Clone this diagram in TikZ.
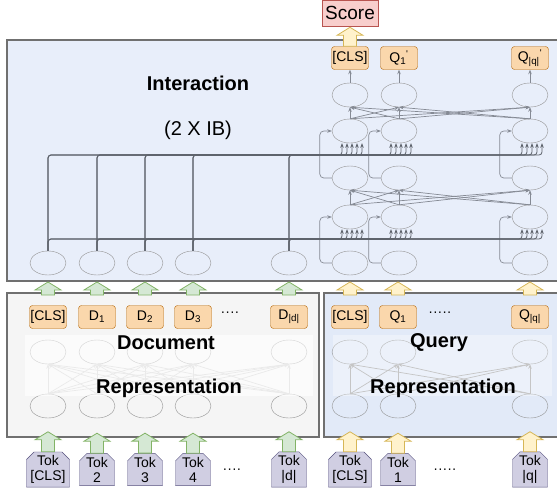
\documentclass[tikz,border=0pt]{standalone}
\usepackage{fontspec}
\setmainfont{Liberation Sans}
\usetikzlibrary{shapes.geometric, shapes.misc, arrows.meta}
\definecolor{boxgray}{HTML}{707070}
\definecolor{intfill}{HTML}{E8EEFA}
\definecolor{qfill}{HTML}{E2EAF8}
\definecolor{docfill}{HTML}{F5F5F5}
\definecolor{outfill}{HTML}{FAD7AC}
\definecolor{outdraw}{HTML}{B46504}
\definecolor{scorefill}{HTML}{F8CECC}
\definecolor{scoredraw}{HTML}{B85450}
\definecolor{greenfill}{HTML}{D5E8D4}
\definecolor{greendraw}{HTML}{82B366}
\definecolor{yellowfill}{HTML}{FFF2CC}
\definecolor{yellowdraw}{HTML}{D6B656}
\definecolor{tokfill}{HTML}{D0CEE2}
\definecolor{tokdraw}{HTML}{56517E}
\definecolor{linkgray}{HTML}{858A94}
\definecolor{busgray}{HTML}{5E636C}
\tikzset{
  >={Stealth[length=4.5pt,width=3.5pt]},
  x=1pt, y=-1pt,
  every node/.style={font=\fontsize{14}{15}\selectfont},
  block/.style={draw=boxgray, line width=1.5pt},
  cell/.style={ellipse, draw=gray!85, minimum width=36pt, minimum height=24pt, inner sep=0pt},
  outbox/.style={draw=outdraw, fill=outfill, rounded corners=3pt, minimum width=37pt, minimum height=23pt, inner sep=0pt},
  tok/.style={chamfered rectangle, chamfered rectangle corners={north west, north east},
    chamfered rectangle xsep=4pt, draw=tokdraw, fill=tokfill, minimum width=35pt,
    minimum height=29pt, inner sep=0pt, align=center},
  title/.style={font=\fontsize{20}{24}\selectfont\bfseries},
  link/.style={->, draw=linkgray, line width=0.7pt},
  bus/.style={->, draw=busgray, line width=0.8pt, rounded corners=3pt},
  fade/.style={fill=white, draw=none},
  greenup/.style={fill=greenfill, draw=greendraw, line width=0.8pt},
  yellowup/.style={fill=yellowfill, draw=yellowdraw, line width=0.8pt},
  pics/fatup/.style={code={
    \draw[pic actions] (-6.5,0) -- (-6.5,8-#1) -- (-13,8-#1) -- (0,-#1)
      -- (13,8-#1) -- (6.5,8-#1) -- (6.5,0) -- cycle;}},
}
\begin{document}
\begin{tikzpicture}
  \useasboundingbox (0,0) rectangle (557,493);
  \clip (0,0) rectangle (557,493);

  % the three blocks
  \draw[block, fill=intfill] (7,40) rectangle (565,281);
  \draw[block, fill=docfill] (7,293) rectangle (319,437);
  \draw[block, fill=qfill]   (324,293) rectangle (565,437);

  % interaction block
  \node[title] (inter) at (198,83) {Interaction};
  \node[font=\fontsize{20}{24}\selectfont] (times) at (198,130) {(2 X IB)};

  \foreach \x [count=\i from 0] in {48,97,145,193,289}
    \node[cell] (id\i) at (\x,263) {};
  \foreach \x [count=\i from 0] in {350,399,530} {
    \node[cell] (iq\i) at (\x,263) {};
    \node[cell] (ia\i) at (\x,217) {};
    \node[cell] (ib\i) at (\x,178) {};
    \node[cell] (ic\i) at (\x,131) {};
    \node[cell] (ie\i) at (\x,95) {};
  }
  \node[outbox] (out0) at (350,58) {[CLS]};
  \node[outbox] (out1) at (399,58) {Q\textsubscript{1}\textsuperscript{\textquotesingle}};
  \node[outbox] (out2) at (530,58) {Q\textsubscript{|q|}\textsuperscript{\textquotesingle}};
  \node[draw=scoredraw, fill=scorefill, minimum width=56pt, minimum height=26pt,
    inner sep=0pt, font=\fontsize{19}{22}\selectfont] (score) at (350,13) {Score};

  \foreach \j in {0,1,2} {
    \draw[link, rounded corners=4pt] (iq\j.west) -- ++(-12,0) |- (ia\j.west);
    \draw[link, rounded corners=4pt] (ib\j.west) -- ++(-12,0) |- (ic\j.west);
    \draw[link] (ie\j.north) -- (out\j.south);
    \foreach \k in {0,1,2} {
      \draw[link] (ia\j.north) -- (ib\k.south);
      \draw[link] (ic\j.north) -- (ie\k.south);
    }
  }
  % document states feed every query column
  \foreach \i in {0,...,4} {
    \pgfmathsetmacro\off{-8+5*\i}
    \foreach \j in {0,1,2} {
      \draw[bus] (id\i.north) |- ([xshift=\off pt]ia\j.south |- 0,239) -- ([xshift=\off pt]ia\j.south);
      \draw[bus] (id\i.north) |- ([xshift=\off pt]ic\j.south |- 0,155) -- ([xshift=\off pt]ic\j.south);
    }
  }

  % document representation
  \foreach \x [count=\i from 0] in {48,97,145,193,289} {
    \node[cell] (db\i) at (\x,406) {};
    \node[cell] (dt\i) at (\x,352) {};
  }
  \foreach \i in {0,...,4}
    \foreach \j in {0,...,4}
      \draw[link, draw=gray!40] (db\i.north) -- (dt\j.south);
  \node[fade, fill opacity=0.6, minimum width=288pt, minimum height=61pt] (docfade) at (169,365.5) {};
  \node[title] (doctitle) at (166,343) {Document};
  \node[title] (docrep) at (169,388) {Representation};

  \node[outbox] (dout0) at (48,317) {[CLS]};
  \node[outbox] (dout1) at (97,317) {D\textsubscript{1}};
  \node[outbox] (dout2) at (145,317) {D\textsubscript{2}};
  \node[outbox] (dout3) at (193,317) {D\textsubscript{3}};
  \node[outbox] (dout4) at (289,317) {D\textsubscript{|d|}};
  \node (ddots) at (230,314) {····};

  \node[tok] (dtok0) at (48,469.5) {Tok\\{[CLS]}};
  \node[tok] (dtok1) at (97,469.5) {Tok\\2};
  \node[tok] (dtok2) at (145,469.5) {Tok\\3};
  \node[tok] (dtok3) at (193,469.5) {Tok\\4};
  \node[tok] (dtok4) at (289,469.5) {Tok\\|d|};
  \node (dtokdots) at (232,471) {····};

  % query representation
  \foreach \x [count=\i from 0] in {350,398,530} {
    \node[cell] (qb\i) at (\x,406) {};
    \node[cell] (qt\i) at (\x,352) {};
  }
  \foreach \i in {0,1,2}
    \foreach \j in {0,1,2}
      \draw[link, draw=gray!70] (qb\i.north) -- (qt\j.south);
  \node[fade, fill opacity=0.35, minimum width=219pt, minimum height=61pt] (qfade) at (442.5,365.5) {};
  \node[title] (qtitle) at (439,343) {Query};
  \node[title] (qrep) at (443,388) {Representation};

  \node[outbox] (qout0) at (350,317) {[CLS]};
  \node[outbox] (qout1) at (398,317) {Q\textsubscript{1}};
  \node[outbox] (qout2) at (530,317) {Q\textsubscript{|q|}};
  \node (qdots) at (440,314) {·····};

  \node[tok] (qtok0) at (350,469.5) {Tok\\{[CLS]}};
  \node[tok] (qtok1) at (398,469.5) {Tok\\1};
  \node[tok] (qtok2) at (530,469.5) {Tok\\|q|};
  \node (qtokdots) at (445,471) {·····};

  % wide arrows between the blocks
  \foreach \i in {0,...,4} {
    \pic[greenup] at (dtok\i.north) {fatup=20};
    \pic[greenup] at (dout\i |- 0,295) {fatup=13};
  }
  \foreach \i in {0,1,2} {
    \pic[yellowup] at (qtok\i.north) {fatup=20};
    \pic[yellowup] at (qout\i |- 0,295) {fatup=13};
  }
  \pic[yellowup] at (out0.north) {fatup=19};
\end{tikzpicture}
\end{document}
